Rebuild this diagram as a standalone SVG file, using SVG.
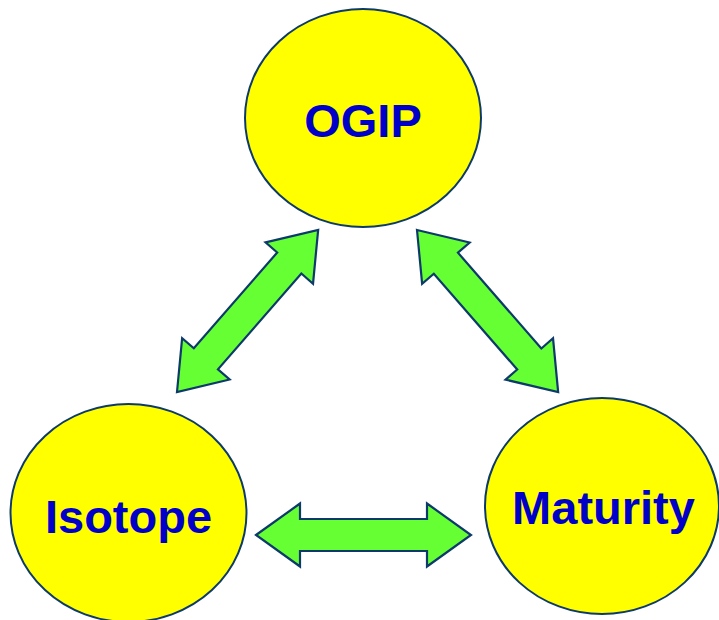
<svg xmlns="http://www.w3.org/2000/svg" xmlns:xlink="http://www.w3.org/1999/xlink" width="719" height="620" viewBox="0 0 719 620">
  <style>
    .node { fill: #FFFF00; stroke: #0D3A6B; stroke-width: 2; }
    .label { font-family: "Liberation Sans", Arial, sans-serif; font-weight: bold; font-size: 47px; fill: #0000C8; text-anchor: middle; }
    .arrow { fill: #66FF33; stroke: #0D3A6B; stroke-width: 2.2; stroke-linejoin: miter; }
  </style>
  <defs>
    <path id="dblArrow" d="M0,0 L44,-31.5 L44,-16 L171,-16 L171,-31.5 L215,0 L171,31.5 L171,16 L44,16 L44,31.5 Z"/>
  </defs>
  <rect width="719" height="620" fill="#FFFFFF"/>
  <g id="connectors">
    <use xlink:href="#dblArrow" class="arrow" transform="translate(177,392) rotate(-48.96)"/>
    <use xlink:href="#dblArrow" class="arrow" transform="translate(417,230) rotate(48.96)"/>
    <use xlink:href="#dblArrow" class="arrow" transform="translate(256,535)"/>
  </g>
  <g id="node-ogip">
    <ellipse class="node" cx="363" cy="118" rx="118" ry="109"/>
    <text class="label" x="363" y="137">OGIP</text>
  </g>
  <g id="node-isotope">
    <ellipse class="node" cx="128.5" cy="513" rx="118" ry="109"/>
    <text class="label" x="128.5" y="533">Isotope</text>
  </g>
  <g id="node-maturity">
    <ellipse class="node" cx="602" cy="506" rx="117" ry="108"/>
    <text class="label" x="603.5" y="524">Maturity</text>
  </g>
</svg>
